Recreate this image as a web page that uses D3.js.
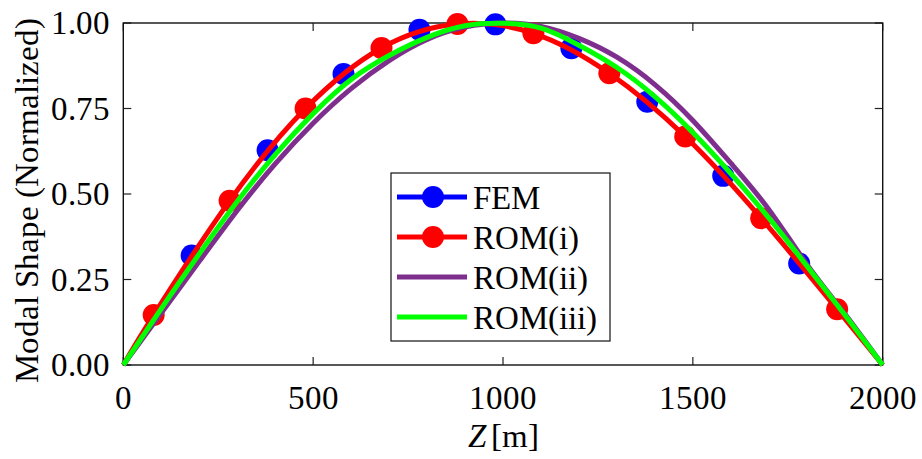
<!DOCTYPE html>
<html><head><meta charset="utf-8">
<style>
  @font-face { font-family: "ChartSerif"; src: local("Liberation Serif"), local("LiberationSerif"), local("Tinos"); font-style: normal; }
  @font-face { font-family: "ChartSerif"; src: local("Liberation Serif Italic"), local("LiberationSerif-Italic"); font-style: italic; }
  svg text, svg tspan { font-family: "ChartSerif", "Liberation Serif", Tinos, serif !important; }
</style>
<script src="https://cdn.jsdelivr.net/npm/d3@7"></script></head>
<body style="margin:0">
<svg width="922" height="459" id="chart" font-family="Liberation Serif"></svg>
<script>
// ---------- data ----------
const xTicks = [0, 500, 1000, 1500, 2000];
const yTicks = [0, 0.25, 0.5, 0.75, 1.0];

const femZ = [180, 380, 580, 780, 980, 1180, 1380, 1580, 1780];
const femV = [0.320, 0.628, 0.851, 0.980, 0.996, 0.926, 0.770, 0.553, 0.297];

const romiZ = [0, 80, 280, 480, 680, 880, 1080, 1280, 1480, 1680, 1880, 2000];
const romiV = [0, 0.146, 0.480, 0.750, 0.927, 0.997, 0.970, 0.853, 0.668, 0.429, 0.163, 0];

const curveZ = [0, 100, 200, 300, 400, 500, 600, 700, 800, 900, 1000,
                1100, 1200, 1300, 1400, 1500, 1600, 1700, 1800, 1900, 2000];
const romiiV = [0, 0.152, 0.303, 0.452, 0.588, 0.707, 0.808, 0.890, 0.952, 0.988, 1.000,
                0.990, 0.955, 0.900, 0.820, 0.715, 0.590, 0.455, 0.295, 0.150, 0];
const romiiiV = [0, 0.165, 0.325, 0.478, 0.615, 0.735, 0.835, 0.905, 0.958, 0.992, 0.999,
                 0.985, 0.935, 0.870, 0.785, 0.680, 0.560, 0.430, 0.290, 0.147, 0];

const legendNames = ["FEM", "ROM(i)", "ROM(ii)", "ROM(iii)"];
const colors = {FEM: "#0000ff", "ROM(i)": "#ff0000", "ROM(ii)": "#7e2f8e", "ROM(iii)": "#00ff00"};

// ---------- layout ----------
const L = 123.3, R = 882.7, T = 23, B = 365;
const FS = 33;
const svg = d3.select("#chart");
const x = d3.scaleLinear().domain([0, 2000]).range([L, R]);
const y = d3.scaleLinear().domain([0, 1]).range([B, T]);

function label(sel) {
  return sel.attr("font-size", FS).attr("font-family", "Liberation Serif").attr("fill", "#000");
}

// ticks (inward on all four sides)
const tickLen = 8;
const tk = svg.append("g").attr("stroke", "#222").attr("stroke-width", 1.2);
xTicks.forEach(v => {
  tk.append("line").attr("x1", x(v)).attr("x2", x(v)).attr("y1", B).attr("y2", B - tickLen);
  tk.append("line").attr("x1", x(v)).attr("x2", x(v)).attr("y1", T).attr("y2", T + tickLen);
});
yTicks.forEach(v => {
  tk.append("line").attr("x1", L).attr("x2", L + tickLen).attr("y1", y(v)).attr("y2", y(v));
  tk.append("line").attr("x1", R).attr("x2", R - tickLen).attr("y1", y(v)).attr("y2", y(v));
});
xTicks.forEach(v => {
  label(svg.append("text")).attr("x", x(v)).attr("y", B + 44).attr("text-anchor", "middle").text(v);
});
const fmtY = d3.format(".2f");
yTicks.forEach(v => {
  label(svg.append("text")).attr("x", L - 13).attr("y", y(v) + 11).attr("text-anchor", "end").text(fmtY(v));
});

// frame
svg.append("rect").attr("x", L).attr("y", T).attr("width", R - L).attr("height", B - T)
  .attr("fill", "none").attr("stroke", "#111").attr("stroke-width", 1.4);

// axis titles
label(svg.append("text")).attr("transform", `translate(38,${(T + B) / 2 + 6}) rotate(-90)`)
  .attr("text-anchor", "middle").text("Modal Shape (Normalized)");
const xt = label(svg.append("text")).attr("x", (L + R) / 2).attr("y", 447).attr("text-anchor", "middle");
xt.append("tspan").attr("font-style", "italic").text("Z");
xt.append("tspan").attr("dx", 5).text("[m]");

// ---------- marks ----------
const line = d3.line().x(d => x(d[0])).y(d => y(d[1])).curve(d3.curveNatural);
const W = 5, RAD = 11;

svg.append("g").selectAll("circle").data(d3.zip(femZ, femV)).join("circle")
  .attr("cx", d => x(d[0])).attr("cy", d => y(d[1])).attr("r", RAD).attr("fill", colors.FEM);

svg.append("path").datum(d3.zip(romiZ, romiV)).attr("d", line)
  .attr("fill", "none").attr("stroke", colors["ROM(i)"]).attr("stroke-width", W);
svg.append("g").selectAll("circle").data(d3.zip(romiZ, romiV).slice(1, -1)).join("circle")
  .attr("cx", d => x(d[0])).attr("cy", d => y(d[1])).attr("r", RAD).attr("fill", colors["ROM(i)"]);

svg.append("path").datum(d3.zip(curveZ, romiiV)).attr("d", line)
  .attr("fill", "none").attr("stroke", colors["ROM(ii)"]).attr("stroke-width", W);
svg.append("path").datum(d3.zip(curveZ, romiiiV)).attr("d", line)
  .attr("fill", "none").attr("stroke", colors["ROM(iii)"]).attr("stroke-width", W);

// ---------- legend ----------
const lg = svg.append("g");
lg.append("rect").attr("x", 391).attr("y", 173).attr("width", 219).attr("height", 168)
  .attr("fill", "#fff").attr("stroke", "#111").attr("stroke-width", 1.2);
legendNames.forEach((name, i) => {
  const cy = 197 + i * 40;
  lg.append("line").attr("x1", 397).attr("x2", 467).attr("y1", cy).attr("y2", cy)
    .attr("stroke", colors[name]).attr("stroke-width", W);
  if (i < 2) lg.append("circle").attr("cx", 433).attr("cy", cy).attr("r", RAD).attr("fill", colors[name]);
  label(lg.append("text")).attr("x", 473).attr("y", cy + 12).text(name);
});
</script>
</body>
</html>
